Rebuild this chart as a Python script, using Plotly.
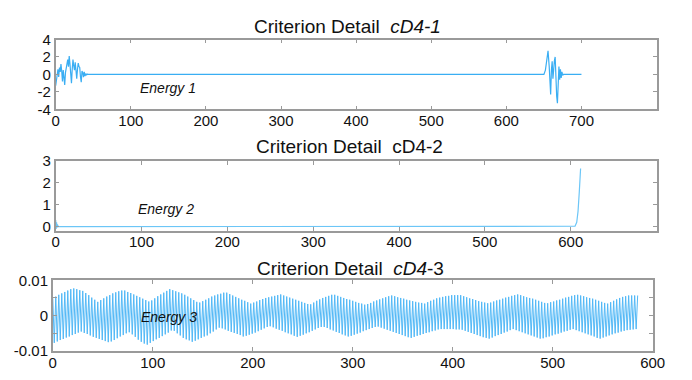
import numpy as np
import plotly.graph_objects as go

# ---------------- data ----------------
# Panel 1: cD4-1 (x sample, value)
p1_x = [0, 1, 2, 3, 4, 5, 6, 7, 8, 9, 10, 11, 12, 13, 14, 15, 16, 17, 18, 19, 20,
        21, 22, 23, 24, 25, 26, 27, 28, 29, 30, 31, 32, 33, 34, 35, 36, 37, 38,
        39, 40, 41, 42, 43, 44, 45, 46, 48, 50,
        650, 652, 654, 655.5, 657, 658, 659, 660, 661, 662, 663, 664, 665, 666,
        667, 668, 669, 670, 671, 672, 673, 674, 675, 676, 700]
p1_y = [-1.3, -0.4, 0.2, 0.6, -0.3, 0.8, 0.3, 1.2, 0.4, -0.8, 0.5, -0.4, -1.2, 0.2,
        0.8, 1.5, 1.7, 0.9, 2.1, 1.2, -0.5, -1.0, 0.6, 1.7, 1.0, 0.5, 1.4, 0.2,
        -0.5, 0.6, 1.3, 0.9, 0.8, -0.3, -0.9, 0.4, 0.2, -0.3, 0.3, -0.2, 0.1,
        -0.1, 0.05, 0.0, 0.02, 0.0, 0.0, 0.0, 0.0,
        0.0, 0.5, 1.8, 2.7, 1.0, -1.0, -2.3, 0.5, 1.5, -0.5, 0.8, 1.6, 2.0, -1.0,
        -2.5, -3.3, -1.5, 0.9, -0.6, 0.6, -0.4, 0.3, -0.1, 0.0, 0.0]

# Panel 2: cD4-2
p2_x = [0, 0.5, 1, 1.5, 2, 3, 100, 200, 300, 400, 500, 600, 605, 607, 608.5, 610, 611.5]
p2_y = [0.3, -0.1, 0.2, -0.05, 0.1, 0.0, 0.0, 0.0, 0.0, 0.0, 0.0, 0.01, 0.02, 0.2, 0.7, 1.6, 2.65]

# Panel 3: cD4-3, per-cycle upper and lower peaks (units of 1e-4)
p3_upper = [49, 54, 59, 63, 67, 71, 75, 77, 75, 72, 70, 64, 58, 51, 45, 39, 44, 49, 54, 58,
            63, 66, 69, 71, 71, 67, 64, 60, 56, 52, 48, 44, 40, 43, 49, 55, 60, 65, 70, 75,
            72, 69, 66, 63, 59, 54, 49, 44, 39, 37, 41, 45, 49, 54, 57, 60, 62, 65, 65, 61,
            57, 53, 49, 45, 42, 38, 34, 37, 40, 44, 47, 50, 52, 54, 56, 58, 60, 57, 54, 51,
            48, 45, 42, 39, 36, 33, 32, 37, 42, 46, 50, 53, 56, 59, 59, 56, 53, 50, 47, 45,
            42, 39, 36, 34, 31, 33, 36, 40, 43, 46, 49, 52, 55, 57, 55, 52, 50, 48, 45, 43,
            41, 39, 37, 36, 34, 38, 42, 45, 49, 51, 53, 55, 56, 58, 58, 58, 58, 55, 52, 49,
            47, 44, 41, 39, 37, 35, 37, 40, 43, 45, 48, 51, 53, 56, 58, 60, 58, 55, 52, 50,
            48, 45, 42, 39, 36, 35, 38, 40, 43, 45, 48, 51, 53, 56, 58, 59, 57, 55, 52, 50,
            48, 45, 42, 39, 36, 34, 38, 42, 46, 50, 53, 55, 57, 57, 57, 57]
p3_lower = [77, 73, 69, 66, 62, 59, 55, 52, 48, 45, 49, 52, 56, 60, 63, 66, 69, 72, 75, 73,
            69, 64, 59, 55, 50, 47, 53, 60, 68, 74, 79, 82, 77, 72, 67, 63, 58, 53, 48, 42,
            43, 50, 56, 63, 67, 70, 74, 71, 67, 63, 59, 56, 50, 45, 39, 34, 36, 39, 43, 46,
            49, 52, 55, 59, 57, 54, 51, 48, 44, 40, 36, 32, 30, 33, 37, 40, 43, 47, 50, 53,
            57, 60, 57, 54, 50, 47, 43, 39, 35, 32, 32, 35, 39, 42, 46, 49, 53, 56, 59, 57,
            54, 51, 48, 44, 41, 38, 35, 32, 31, 34, 37, 40, 43, 46, 49, 52, 55, 58, 61, 63,
            60, 57, 55, 52, 49, 47, 44, 42, 39, 38, 38, 38, 38, 38, 39, 39, 40, 43, 46, 49,
            52, 55, 58, 61, 63, 65, 62, 58, 55, 52, 48, 45, 41, 38, 41, 44, 47, 50, 53, 56,
            59, 62, 65, 64, 61, 59, 56, 53, 51, 48, 45, 43, 40, 38, 41, 44, 47, 50, 53, 56,
            59, 63, 65, 62, 59, 56, 53, 50, 48, 45, 43, 41, 40, 39, 38]
P3_SCALE = 1e-4
P3_HALF_STEP = 1.5   # samples between an upper and the next lower peak

titles = ["Criterion Detail  <i>cD4-1</i>",
          "Criterion Detail  cD4-2",
          "Criterion Detail  <i>cD4</i>-3"]
labels = ["Energy 1", "Energy 2", "Energy 3"]

# ---------------- build panel-3 series ----------------
p3_y = []
for i in range(len(p3_upper)):
    p3_y.append(p3_upper[i] * P3_SCALE)
    if i < len(p3_lower):
        p3_y.append(-p3_lower[i] * P3_SCALE)
p3_x = list(np.arange(len(p3_y)) * P3_HALF_STEP)

# ---------------- figure ----------------
W, H = 692, 380
def px_x(a, b):
    return [a / W, b / W]
def px_y(top, bottom):
    return [1 - bottom / H, 1 - top / H]

FONT = "Liberation Sans, Arial, sans-serif"

fig = go.Figure()
fig.add_trace(go.Scatter(x=p1_x, y=p1_y, mode="lines",
                         line=dict(color="#3aaef3", width=1.2), xaxis="x", yaxis="y"))
fig.add_trace(go.Scatter(x=p2_x, y=p2_y, mode="lines",
                         line=dict(color="#6cc6f7", width=1.2), xaxis="x2", yaxis="y2"))
fig.add_trace(go.Scatter(x=p3_x, y=p3_y, mode="lines",
                         line=dict(color="#52b8f6", width=1), xaxis="x3", yaxis="y3"))

font = dict(family=FONT, size=15, color="#111")
axcommon = dict(showgrid=False, zeroline=False, showline=True, linecolor="#9a9a9a",
                linewidth=1.5, mirror="ticks", ticks="inside", ticklen=4,
                tickcolor="#9a9a9a", tickfont=font)
xcommon = dict(axcommon, ticklabelstandoff=-3)
ycommon = dict(axcommon, ticklabelstandoff=0)

fig.update_layout(
    width=W, height=H, margin=dict(l=0, r=0, t=0, b=0),
    paper_bgcolor="white", plot_bgcolor="white", showlegend=False,
    xaxis=dict(domain=px_x(53, 669), range=[0, 800], tickvals=[0, 100, 200, 300, 400, 500, 600, 700],
               anchor="y", **xcommon),
    yaxis=dict(domain=px_y(32, 105), range=[-4, 4], tickvals=[-4, -2, 0, 2, 4],
               ticktext=["-4", "-2", "0", "2", "4"], anchor="x", **ycommon),
    xaxis2=dict(domain=px_x(53, 669), range=[0, 700], tickvals=[0, 100, 200, 300, 400, 500, 600],
                anchor="y2", **xcommon),
    yaxis2=dict(domain=px_y(159, 232), range=[-0.18, 3], tickvals=[0, 1, 2, 3],
                anchor="x2", **ycommon),
    xaxis3=dict(domain=px_x(50, 665), range=[0, 600], tickvals=[0, 100, 200, 300, 400, 500, 600],
                anchor="y3", **xcommon),
    yaxis3=dict(domain=px_y(284, 358), range=[-0.01, 0.01],
                tickvals=[-0.01, -0.005, 0, 0.005, 0.01],
                ticktext=["-0.01", "", "0", "", "0.01"], anchor="x3", **ycommon),
)

title_pos = [(352, 18), (354, 144), (355, 272)]
for t, (cx, cy) in zip(titles, title_pos):
    fig.add_annotation(text=t, x=cx / W, y=1 - cy / H, xref="paper", yref="paper",
                       xanchor="center", yanchor="middle", showarrow=False,
                       font=dict(family=FONT, size=19, color="#111"))

label_pos = [("x", "y", 149, -1.6), ("x2", "y2", 129, 0.79), ("x3", "y3", 116, -0.0003)]
for lab, (xr, yr, lx, ly) in zip(labels, label_pos):
    fig.add_annotation(text="<i>" + lab + "</i>", x=lx, y=ly, xref=xr, yref=yr,
                       showarrow=False, xanchor="center", yanchor="middle",
                       font=dict(family=FONT, size=14, color="#111"))

fig.write_html("out.html")
